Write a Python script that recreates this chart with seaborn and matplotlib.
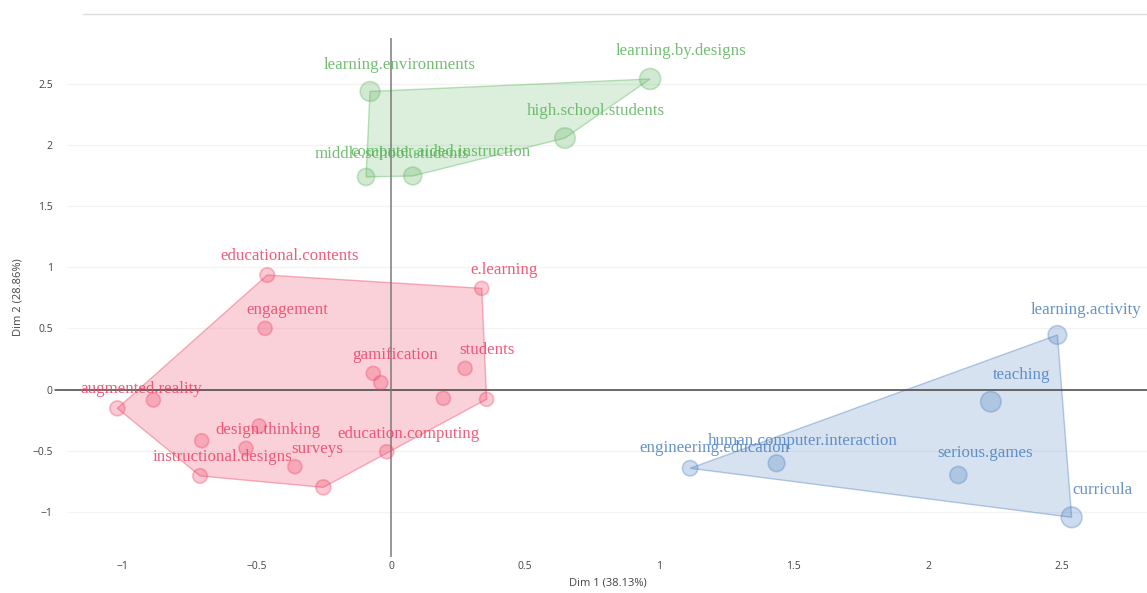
import numpy as np
import pandas as pd
import matplotlib
matplotlib.use("Agg")
import matplotlib.pyplot as plt
from matplotlib.lines import Line2D
import seaborn as sns

# ---------------- data ----------------
green_labels = ["learning.environments", "learning.by.designs", "high.school.students",
                "middle.school.students", "computer.aided.instruction"]
green_x = [-0.078, 0.965, 0.648, -0.093, 0.081]
green_y = [2.437, 2.539, 2.056, 1.738, 1.746]
green_w = [0.80, 1.00, 0.90, 0.45, 0.55]

red_labels = ["educational.contents", "e.learning", "engagement", "gamification", "",
              "students", "", "", "augmented.reality", "", "", "", "design.thinking",
              "surveys", "instructional.designs", "", "education.computing"]
red_x = [-0.461, 0.338, -0.469, -0.066, -0.038, 0.276, 0.195, 0.356, -1.019, -0.885,
         -0.491, -0.705, -0.540, -0.358, -0.711, -0.252, -0.016]
red_y = [0.936, 0.827, 0.500, 0.132, 0.056, 0.173, -0.072, -0.080, -0.154, -0.086,
         -0.298, -0.419, -0.481, -0.631, -0.707, -0.800, -0.509]
red_w = [0.15, 0.10, 0.10, 0.10, 0.10, 0.10, 0.10, 0.10, 0.20, 0.10,
         0.10, 0.10, 0.10, 0.10, 0.15, 0.20, 0.10]

blue_labels = ["learning.activity", "teaching", "engineering.education",
               "human.computer.interaction", "serious.games", "curricula"]
blue_x = [2.482, 2.234, 1.114, 1.436, 2.113, 2.535]
blue_y = [0.446, -0.100, -0.644, -0.603, -0.699, -1.045]
blue_w = [0.65, 0.90, 0.25, 0.40, 0.45, 0.95]

cluster_names = ["1", "2", "3"]
x_ticks = [-1, -0.5, 0, 0.5, 1, 1.5, 2, 2.5]
x_ticklabels = ["\u22121", "\u22120.5", "0", "0.5", "1", "1.5", "2", "2.5"]
y_ticks = [-1, -0.5, 0, 0.5, 1, 1.5, 2, 2.5]
y_ticklabels = ["\u22121", "\u22120.5", "0", "0.5", "1", "1.5", "2", "2.5"]
x_title = "Dim 1 (38.13%)"
y_title = "Dim 2 (28.86%)"

# ---------------- build frame ----------------
df = pd.concat([
    pd.DataFrame({"x": red_x, "y": red_y, "w": red_w, "label": red_labels, "cluster": cluster_names[0]}),
    pd.DataFrame({"x": green_x, "y": green_y, "w": green_w, "label": green_labels, "cluster": cluster_names[1]}),
    pd.DataFrame({"x": blue_x, "y": blue_y, "w": blue_w, "label": blue_labels, "cluster": cluster_names[2]}),
], ignore_index=True)

colors = {cluster_names[0]: "#EE3F62", cluster_names[1]: "#5BB35B", cluster_names[2]: "#4A7FBF"}
hull_alpha = {cluster_names[0]: 0.24, cluster_names[1]: 0.21, cluster_names[2]: 0.22}

sns.set_theme(style="white")
plt.rcParams["font.family"] = ["Open Sans", "DejaVu Sans"]

W, H = 1147, 593
fig = plt.figure(figsize=(W / 100, H / 100), dpi=100)
ax_l, ax_r, ax_t, ax_b = 68, 1147, 38, 557
ax = fig.add_axes([ax_l / W, 1 - ax_b / H, (ax_r - ax_l) / W, (ax_b - ax_t) / H])

x0_px, sx = 391, 268.5
y0_px, sy = 389.5, 122.3
ax.set_xlim((ax_l - x0_px) / sx, (ax_r - x0_px) / sx)
ax.set_ylim((y0_px - ax_b) / sy, (y0_px - ax_t) / sy)

# grid (horizontal only, very faint)
ax.set_xticks(x_ticks)
ax.set_yticks(y_ticks)
ax.grid(False)
ax.yaxis.grid(True, color="#f3f3f3", lw=0.9)
ax.set_axisbelow(True)
for s in ax.spines.values():
    s.set_visible(False)


def convex_hull(pts):
    pts = sorted(map(tuple, pts))
    def cross(o, a, b):
        return (a[0] - o[0]) * (b[1] - o[1]) - (a[1] - o[1]) * (b[0] - o[0])
    lower, upper = [], []
    for p in pts:
        while len(lower) >= 2 and cross(lower[-2], lower[-1], p) <= 0:
            lower.pop()
        lower.append(p)
    for p in reversed(pts):
        while len(upper) >= 2 and cross(upper[-2], upper[-1], p) <= 0:
            upper.pop()
        upper.append(p)
    return np.array(lower[:-1] + upper[:-1])


for c in cluster_names:
    sub = df[df.cluster == c]
    hull = convex_hull(sub[["x", "y"]].values)
    ax.fill(hull[:, 0], hull[:, 1], facecolor=colors[c], alpha=hull_alpha[c], lw=0, zorder=1)
    ax.fill(hull[:, 0], hull[:, 1], facecolor="none", edgecolor=colors[c], alpha=0.4, lw=1, zorder=1.1)

# zero lines
ax.axhline(0, color="#444444", lw=1.1, xmin=-13 / (ax_r - ax_l), xmax=1, clip_on=False, zorder=1.5)
ax.axvline(0, color="#7a7a7a", lw=1.1, zorder=1.5)

smin, smax = 88, 230
sns.scatterplot(data=df, x="x", y="y", hue="cluster", palette=colors, size="w",
                sizes=(smin, smax), size_norm=(0, 1), legend=False, ax=ax, zorder=3,
                linewidth=1.2)
coll = ax.collections[-1]
fc = coll.get_facecolors().copy()
ec = fc.copy()
fc[:, 3] = 0.28
ec[:, 3] = 0.33
coll.set_facecolors(fc)
coll.set_edgecolors(ec)

# labels, offset from marker by its size
for _, row in df.iterrows():
    if not row["label"]:
        continue
    area = smin + row["w"] * (smax - smin)
    r_px = np.sqrt(area) / 0.72 / 2
    dx = (2.6 * r_px + 4) * 0.72
    dy = (2.8 * r_px - 1.5) * 0.72
    ax.annotate(row["label"], (row["x"], row["y"]), xytext=(dx, dy), textcoords="offset points",
                ha="center", va="center", color=colors[row["cluster"]], alpha=0.85,
                fontsize=12.2, family=["Liberation Serif"], zorder=4)

ax.set_xticklabels(x_ticklabels)
ax.set_yticklabels(y_ticklabels)
ax.tick_params(axis="both", length=0, labelsize=7.5, labelcolor="#444444")
ax.tick_params(axis="x", pad=3)
ax.tick_params(axis="y", pad=11)

ax.set_xlabel(x_title, fontsize=8, color="#444444")
ax.set_ylabel(y_title, fontsize=8, color="#444444")
ax.xaxis.set_label_coords(0.5, (ax_b - 583) / (ax_b - ax_t))
ax.xaxis.label.set_va("center")
ax.yaxis.set_label_coords((18 - ax_l) / (ax_r - ax_l), 0.5)
ax.yaxis.label.set_va("center")

fig.add_artist(Line2D([83 / W, 1], [1 - 14 / H, 1 - 14 / H], transform=fig.transFigure,
                      color="#dddddd", lw=1))

fig.savefig("out.png", dpi=100)
